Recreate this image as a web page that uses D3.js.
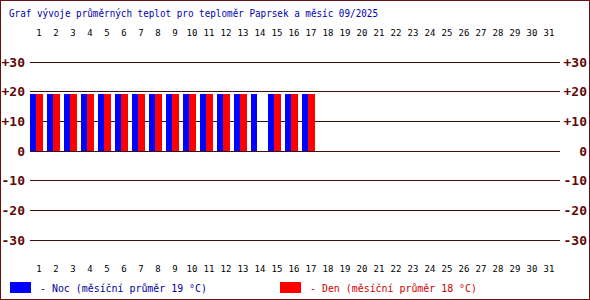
<!DOCTYPE html>
<html>
<head>
<meta charset="utf-8">
<script src="https://cdn.jsdelivr.net/npm/d3@7"></script>
<style>
body { margin: 0; background: #fff; }
</style>
</head>
<body>
<div id="chart"></div>
<script>
var days = d3.range(1, 32);
// average night (Noc) and day (Den) temperatures per day, null = no data
var nightTemps = [19.2,19.2,19.2,19.2,19.2,19.2,19.2,19.2,19.2,19.2,19.2,19.2,19.2,19.2,19.2,19.2,19.2,
                  null,null,null,null,null,null,null,null,null,null,null,null,null,null];
var dayTemps = [19.2,19.2,19.2,19.2,19.2,19.2,19.2,19.2,19.2,19.2,19.2,19.2,19.2,null,19.2,19.2,19.2,
                null,null,null,null,null,null,null,null,null,null,null,null,null,null];
var yTicks = [30, 20, 10, 0, -10, -20, -30];
var titleText = "Graf vývoje průměrných teplot pro teploměr Paprsek a měsíc 09/2025";
var legendItems = [
  {key: "noc", label: "- Noc (měsíční průměr 19 °C)", color: "#0000ff", text: "#0000a0"},
  {key: "den", label: "- Den (měsíční průměr 18 °C)", color: "#ff0000", text: "#d00000"}
];

var width = 590, height = 300;

var svg = d3.select("#chart").append("svg")
  .attr("width", width)
  .attr("height", height);

svg.append("rect")
  .attr("x", 0.5).attr("y", 0.5)
  .attr("width", width - 1).attr("height", height - 1)
  .attr("fill", "#fff")
  .attr("stroke", "#6a1010");

var xScale = d3.scaleBand()
  .domain(days)
  .range([30, 30 + 31 * 17])
  .padding(0);

var subScale = d3.scaleOrdinal()
  .domain(["noc", "den"])
  .range([0, 6]);
var subWidth = {noc: 6, den: 7};

var yScale = d3.scaleLinear()
  .domain([-30, 30])
  .range([239.5, 61.5]);

// title
svg.append("text")
  .attr("x", 9)
  .attr("y", 17)
  .attr("font-family", "DejaVu Sans Mono, monospace")
  .attr("font-size", 11)
  .attr("fill", "#0000b0")
  .attr("textLength", 369)
  .attr("lengthAdjust", "spacingAndGlyphs")
  .text(titleText);

// grid lines
svg.append("g")
  .selectAll("line")
  .data(yTicks)
  .join("line")
    .attr("x1", 30)
    .attr("x2", 560)
    .attr("y1", d => Math.round(yScale(d)) + 0.5)
    .attr("y2", d => Math.round(yScale(d)) + 0.5)
    .attr("stroke", "#3a1010")
    .attr("stroke-width", 1);

var fmt = d => d > 0 ? "+" + d : "" + d;

// left and right axis labels
[{x: 25}, {x: 587}].forEach(function(side) {
  svg.append("g")
    .selectAll("text")
    .data(yTicks)
    .join("text")
      .attr("x", side.x)
      .attr("y", d => yScale(d) + 5)
      .attr("text-anchor", "end")
      .attr("font-family", "DejaVu Sans Mono, monospace")
      .attr("font-weight", "bold")
      .attr("font-size", 13)
      .attr("fill", "#600808")
      .text(fmt);
});

// day labels top and bottom
[36, 272].forEach(function(yPos) {
  svg.append("g")
    .selectAll("text")
    .data(days)
    .join("text")
      .attr("x", d => xScale(d) + 9)
      .attr("y", yPos)
      .attr("text-anchor", "middle")
      .attr("font-family", "DejaVu Sans Mono, monospace")
      .attr("font-size", 9)
      .attr("fill", "#000")
      .text(d => d);
});

// bars
var series = [
  {key: "noc", values: nightTemps, color: "#0000ff"},
  {key: "den", values: dayTemps, color: "#ff0000"}
];

series.forEach(function(s) {
  var rows = days.map((d, i) => ({day: d, value: s.values[i]})).filter(r => r.value != null);
  svg.append("g")
    .selectAll("rect")
    .data(rows)
    .join("rect")
      .attr("x", d => xScale(d.day) + subScale(s.key))
      .attr("width", subWidth[s.key])
      .attr("y", d => Math.round(yScale(Math.max(0, d.value))))
      .attr("height", d => Math.abs(Math.round(yScale(d.value)) - Math.round(yScale(0))))
      .attr("fill", s.color);
});

// legend
var legend = svg.append("g")
  .selectAll("g")
  .data(legendItems)
  .join("g")
    .attr("transform", (d, i) => `translate(${10 + i * 270}, 282)`);

legend.append("rect")
  .attr("x", 0).attr("y", 0)
  .attr("width", 21).attr("height", 11)
  .attr("fill", d => d.color);

legend.append("text")
  .attr("x", 30)
  .attr("y", 10)
  .attr("font-family", "DejaVu Sans Mono, monospace")
  .attr("font-size", 11)
  .attr("fill", d => d.text)
  .attr("textLength", 167)
  .attr("lengthAdjust", "spacingAndGlyphs")
  .text(d => d.label);
</script>
</body>
</html>
